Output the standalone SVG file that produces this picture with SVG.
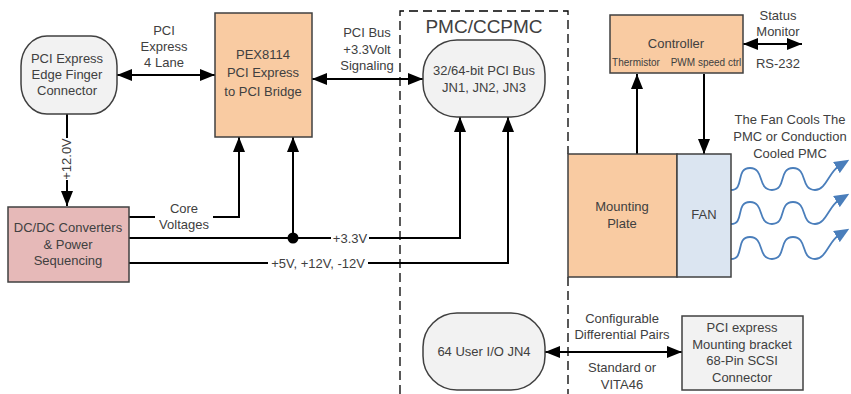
<svg xmlns="http://www.w3.org/2000/svg" width="851" height="394" viewBox="0 0 851 394">
<defs>
<marker id="ah" markerUnits="userSpaceOnUse" markerWidth="15" markerHeight="12" refX="15" refY="6" orient="auto-start-reverse"><path d="M0,0 L15,6 L0,12 z" fill="#000"/></marker>
<marker id="bh" markerUnits="userSpaceOnUse" markerWidth="15" markerHeight="13" refX="3" refY="6.5" orient="auto"><path d="M0,0 L15,6.5 L0,13 z" fill="#4a7ebb"/></marker>
<style>
text{font-family:"Liberation Sans",Arial,sans-serif;font-size:13px;fill:#404040;text-anchor:middle}
.sm{font-size:10px}
.ttl{font-size:19px}
.box{stroke:#404040;stroke-width:1.5}
.ln{stroke:#000;stroke-width:2;fill:none}
.wv{stroke:#4a7ebb;stroke-width:1.8;fill:none}
.peach{fill:#f9cba2}
.grey{fill:#f2f2f2}
</style>
</defs>
<rect width="851" height="394" fill="#fff"/>

<g id="pmc-frame">
<path d="M400,394 V11 H568 V154 M568,277 V394" fill="none" stroke="#000" stroke-width="1.3" stroke-dasharray="9,5"/>
<text class="ttl" x="484" y="33">PMC/CCPMC</text>
</g>

<g id="connectors">
<line class="ln" x1="117" y1="75" x2="215" y2="75" marker-start="url(#ah)" marker-end="url(#ah)"/>
<line class="ln" x1="312" y1="79" x2="423" y2="79" marker-start="url(#ah)" marker-end="url(#ah)"/>
<line class="ln" x1="67" y1="114" x2="67" y2="206" marker-end="url(#ah)"/>
<rect x="60" y="138" width="14" height="42" fill="#fff"/>
<polyline class="ln" points="129,217 155,217"/>
<polyline class="ln" points="213,217 239,217 239,137" marker-end="url(#ah)"/>
<polyline class="ln" points="129,238 460,238 460,117" marker-end="url(#ah)"/>
<line class="ln" x1="293" y1="238" x2="293" y2="137" marker-end="url(#ah)"/>
<circle cx="293" cy="238" r="5.5" fill="#000"/>
<polyline class="ln" points="129,263 508,263 508,117" marker-end="url(#ah)"/>
<rect x="331" y="230" width="38" height="16" fill="#fff"/>
<rect x="268" y="255" width="100" height="16" fill="#fff"/>
<line class="ln" x1="637" y1="154" x2="637" y2="74" marker-end="url(#ah)"/>
<line class="ln" x1="704" y1="74" x2="704" y2="154" marker-end="url(#ah)"/>
<line class="ln" x1="743" y1="44" x2="802" y2="44" marker-start="url(#ah)" marker-end="url(#ah)"/>
<line class="ln" x1="545" y1="352" x2="682" y2="352" marker-start="url(#ah)" marker-end="url(#ah)"/>
<path class="wv" d="M731,190 C745,190 735,168 750,168 C765,168 757,190 772,190 C787,190 778,168 793,168 C808,168 800,190 815,190 C826,190 829,172 839,166" marker-end="url(#bh)"/>
<path class="wv" d="M731,224 C745,224 735,202 750,202 C765,202 757,224 772,224 C787,224 778,202 793,202 C808,202 800,224 815,224 C826,224 829,206 839,200" marker-end="url(#bh)"/>
<path class="wv" d="M731,259 C745,259 735,237 750,237 C765,237 757,259 772,259 C787,259 778,237 793,237 C808,237 800,259 815,259 C826,259 829,241 839,235" marker-end="url(#bh)"/>
<text x="164" y="35">PCI</text>
<text x="164" y="51">Express</text>
<text x="164" y="67">4 Lane</text>
<text x="367" y="37">PCI Bus</text>
<text x="367" y="54">+3.3Volt</text>
<text x="367" y="70">Signaling</text>
<text transform="translate(71,159) rotate(-90)">+12.0V</text>
<text x="184" y="213">Core</text>
<text x="184" y="229">Voltages</text>
<text x="350" y="243">+3.3V</text>
<text x="318" y="268">+5V, +12V, -12V</text>
<text x="778" y="20">Status</text>
<text x="778" y="36">Monitor</text>
<text x="778" y="68">RS-232</text>
<text x="790" y="124">The Fan Cools The</text>
<text x="790" y="141">PMC or Conduction</text>
<text x="790" y="158">Cooled PMC</text>
<text x="622" y="323">Configurable</text>
<text x="622" y="339">Differential Pairs</text>
<text x="622" y="372">Standard or</text>
<text x="622" y="389">VITA46</text>
</g>

<g id="edge-connector">
<rect class="box grey" x="21" y="36" width="96" height="78" rx="26" ry="30"/>
<text x="67" y="63">PCI Express</text>
<text x="67" y="79">Edge Finger</text>
<text x="67" y="95">Connector</text>
</g>

<g id="pex8114">
<rect class="box peach" x="215" y="13" width="97" height="124"/>
<text x="263" y="59">PEX8114</text>
<text x="263" y="77">PCI Express</text>
<text x="263" y="96">to PCI Bridge</text>
</g>

<g id="pci-bus">
<rect class="box grey" x="423" y="40" width="122" height="77" rx="34" ry="34"/>
<text x="484" y="75">32/64-bit PCI Bus</text>
<text x="484" y="92">JN1, JN2, JN3</text>
</g>

<g id="dcdc">
<rect class="box" fill="#e6b9b8" x="8" y="207" width="121" height="75"/>
<text x="68" y="232">DC/DC Converters</text>
<text x="68" y="249">&amp; Power</text>
<text x="68" y="265">Sequencing</text>
</g>

<g id="controller">
<rect class="box peach" x="610" y="15" width="133" height="58"/>
<text x="676" y="48">Controller</text>
<text class="sm" x="636" y="66">Thermistor</text>
<text class="sm" x="706" y="66">PWM speed ctrl</text>
</g>

<g id="mounting-plate">
<rect class="box peach" x="568" y="154" width="109" height="123"/>
<text x="622" y="211">Mounting</text>
<text x="622" y="228">Plate</text>
</g>

<g id="fan">
<rect class="box" fill="#dbe5f1" x="677" y="154" width="54" height="123"/>
<text x="704" y="219">FAN</text>
</g>

<g id="user-io">
<rect class="box grey" x="423" y="313" width="122" height="77" rx="34" ry="34"/>
<text x="484" y="356">64 User I/O JN4</text>
</g>

<g id="scsi-bracket">
<rect class="box grey" x="682" y="316" width="121" height="74"/>
<text x="742" y="332">PCI express</text>
<text x="742" y="349">Mounting bracket</text>
<text x="742" y="365">68-Pin SCSI</text>
<text x="742" y="382">Connector</text>
</g>
</svg>
